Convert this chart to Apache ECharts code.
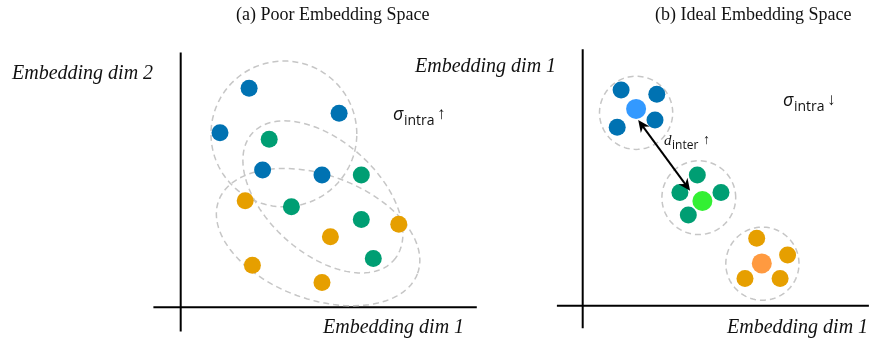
<!DOCTYPE html>
<html>
<head>
<meta charset="utf-8">
<script src="https://cdn.jsdelivr.net/npm/echarts@6/dist/echarts.min.js"></script>
<style>
  html, body { margin: 0; padding: 0; background: #ffffff; }
  #chart { width: 869px; height: 348px; }
</style>
</head>
<body>
<div id="chart"></div>
<script>
// ---- Panel (a): overlapping classes in embedding space ----
const poorBlue   = [[2.28, 7.30], [5.28, 6.47], [1.31, 5.82], [2.73, 4.58], [4.71, 4.41]];
const poorGreen  = [[2.95, 5.60], [6.02, 4.41], [3.69, 3.35], [6.02, 2.93], [6.42, 1.63]];
const poorOrange = [[2.15, 3.55], [7.27, 2.77], [4.99, 2.35], [2.39, 1.40], [4.71, 0.83]];
// cluster outlines: [centerX, centerY, semiMajor, semiMinor, rotationDeg]
const poorHulls  = [[3.44, 5.78, 2.43, 2.43, 0], [4.74, 3.68, 3.17, 1.87, -42], [4.58, 2.34, 3.53, 2.07, -20]];

// ---- Panel (b): compact, well separated classes ----
const idealBlue    = [[1.28, 7.19], [2.47, 7.05], [2.41, 6.19], [1.15, 5.95]];
const idealGreen   = [[3.82, 4.36], [3.24, 3.77], [4.61, 3.77], [3.52, 3.02]];
const idealOrange  = [[5.80, 2.25], [6.83, 1.69], [5.41, 0.91], [6.58, 0.91]];
const centroids    = [[1.78, 6.56], [3.99, 3.49], [5.97, 1.41]];
const idealHulls   = [[1.78, 6.43, 1.22, 1.22, 0], [3.87, 3.60, 1.23, 1.23, 0], [5.99, 1.40, 1.22, 1.22, 0]];
const interArrow   = [[1.85, 6.19, 3.58, 3.83]];

// axis cross lines per panel: [x1, y1, x2, y2]
const poorAxes  = [[-0.91, 0, 9.87, 0], [0, -0.81, 0, 8.49]];
const idealAxes = [[-0.86, 0, 9.54, 0], [0, -0.75, 0, 8.55]];

const BLUE = '#0072b2', GREEN = '#009e73', ORANGE = '#e69f00';
const CENTROID_COLORS = ['#3399ff', '#33f033', '#ff9a40'];

function ellipseItem(params, api) {
  const cx = api.value(0), cy = api.value(1), a = api.value(2), b = api.value(3);
  const phi = api.value(4) * Math.PI / 180;
  const pts = [];
  for (let i = 0; i < 120; i++) {
    const t = i / 120 * Math.PI * 2;
    const x = cx + a * Math.cos(t) * Math.cos(phi) - b * Math.sin(t) * Math.sin(phi);
    const y = cy + a * Math.cos(t) * Math.sin(phi) + b * Math.sin(t) * Math.cos(phi);
    pts.push(api.coord([x, y]));
  }
  return {
    type: 'polygon',
    shape: { points: pts },
    style: { fill: 'none', stroke: '#c6c6c6', lineWidth: 1.5, lineDash: [6, 4] }
  };
}

function segmentItem(params, api) {
  const p1 = api.coord([api.value(0), api.value(1)]);
  const p2 = api.coord([api.value(2), api.value(3)]);
  return {
    type: 'line',
    shape: { x1: p1[0], y1: p1[1], x2: p2[0], y2: p2[1] },
    style: { stroke: '#000', lineWidth: 2 }
  };
}

function arrowItem(params, api) {
  const p1 = api.coord([api.value(0), api.value(1)]);
  const p2 = api.coord([api.value(2), api.value(3)]);
  const dx = p2[0] - p1[0], dy = p2[1] - p1[1];
  const len = Math.hypot(dx, dy), ux = dx / len, uy = dy / len;
  const L = 12, W = 5.5;
  function head(tip, dirx, diry) {
    const bx = tip[0] - dirx * L, by = tip[1] - diry * L;
    return {
      type: 'polygon',
      shape: { points: [tip, [bx - diry * W, by + dirx * W], [tip[0] - dirx * L * 0.7, tip[1] - diry * L * 0.7], [bx + diry * W, by - dirx * W]] },
      style: { fill: '#000' }
    };
  }
  return {
    type: 'group',
    children: [
      { type: 'line', shape: { x1: p1[0] + ux * 6, y1: p1[1] + uy * 6, x2: p2[0] - ux * 6, y2: p2[1] - uy * 6 }, style: { stroke: '#000', lineWidth: 2 } },
      head(p1, -ux, -uy),
      head(p2, ux, uy)
    ]
  };
}

function scatter(idx, data, color, size) {
  return { type: 'scatter', xAxisIndex: idx, yAxisIndex: idx, data: data, symbolSize: size, itemStyle: { color: color, opacity: 1 }, z: 5, silent: true };
}

const chart = echarts.init(document.getElementById('chart'), null, { renderer: 'canvas' });

const serif = '"Liberation Serif", "Times New Roman", serif';
const sans = '"Open Sans", "Noto Sans", sans-serif';

function label(x, y, text, opts) {
  return { type: 'text', left: x, top: y, style: Object.assign({ text: text, fill: '#111', font: 'italic 20px ' + serif }, opts || {}) };
}

chart.setOption({
  animation: false,
  backgroundColor: '#ffffff',
  grid: [
    { left: 150.7, top: 37.3, width: 330, height: 300 },
    { left: 552.7, top: 35.7, width: 316.2, height: 300 }
  ],
  xAxis: [
    { type: 'value', gridIndex: 0, min: -1, max: 10, show: false },
    { type: 'value', gridIndex: 1, min: -1, max: 9.54, show: false }
  ],
  yAxis: [
    { type: 'value', gridIndex: 0, min: -1, max: 9, show: false },
    { type: 'value', gridIndex: 1, min: -1, max: 9, show: false }
  ],
  series: [
    { type: 'custom', xAxisIndex: 0, yAxisIndex: 0, data: poorAxes, renderItem: segmentItem, z: 1, silent: true },
    { type: 'custom', xAxisIndex: 1, yAxisIndex: 1, data: idealAxes, renderItem: segmentItem, z: 1, silent: true },
    { type: 'custom', xAxisIndex: 0, yAxisIndex: 0, data: poorHulls, renderItem: ellipseItem, z: 2, silent: true },
    { type: 'custom', xAxisIndex: 1, yAxisIndex: 1, data: idealHulls, renderItem: ellipseItem, z: 2, silent: true },
    scatter(0, poorBlue, BLUE, 17),
    scatter(0, poorGreen, GREEN, 17),
    scatter(0, poorOrange, ORANGE, 17),
    scatter(1, idealBlue, BLUE, 17),
    scatter(1, idealGreen, GREEN, 17),
    scatter(1, idealOrange, ORANGE, 17),
    {
      type: 'scatter', xAxisIndex: 1, yAxisIndex: 1, symbolSize: 20, z: 6, silent: true,
      data: centroids.map((c, i) => ({ value: c, itemStyle: { color: CENTROID_COLORS[i], opacity: 1 } }))
    },
    { type: 'custom', xAxisIndex: 1, yAxisIndex: 1, data: interArrow, renderItem: arrowItem, z: 7, silent: true }
  ],
  graphic: [
    label(236, 6, '(a) Poor Embedding Space', { font: '18px ' + serif }),
    label(655, 6, '(b) Ideal Embedding Space', { font: '18px ' + serif }),
    label(12, 64, 'Embedding dim 2'),
    label(415, 57, 'Embedding dim 1'),
    label(323, 318, 'Embedding dim 1'),
    label(727, 318, 'Embedding dim 1'),
    // σ_intra ↑ (panel a)
    label(393, 106, 'σ', { font: 'italic 18px ' + sans }),
    label(404, 114, 'intra', { font: '14px ' + sans }),
    label(437, 106, '↑', { font: '17px ' + sans }),
    // σ_intra ↓ (panel b)
    label(783, 92, 'σ', { font: 'italic 18px ' + sans }),
    label(794, 100, 'intra', { font: '14px ' + sans }),
    label(827, 92, '↓', { font: '17px ' + sans }),
    // d_inter ↑
    label(664, 134, 'd', { font: 'italic 15px ' + serif }),
    label(672, 140, 'inter', { font: '12px ' + sans }),
    label(703, 133, '↑', { font: '14px ' + sans })
  ]
});
</script>
</body>
</html>
